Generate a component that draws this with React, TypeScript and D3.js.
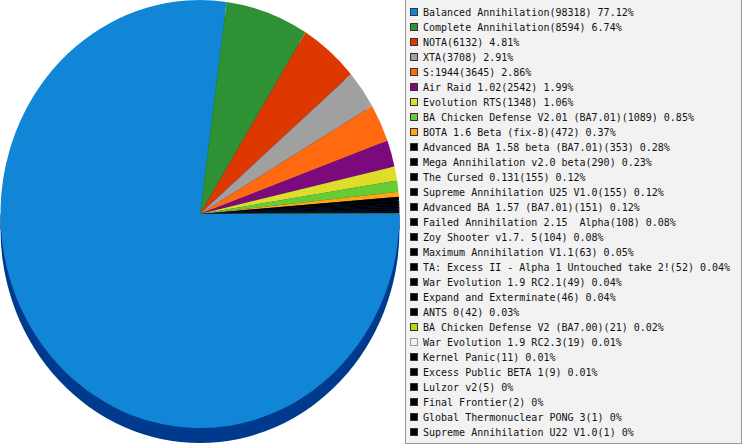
import { useEffect, useRef } from "react";
import * as d3 from "d3";

// ── Data ───────────────────────────────────────────────────────────────────────
const names = [
  "Balanced Annihilation",
  "Complete Annihilation",
  "NOTA",
  "XTA",
  "S:1944",
  "Air Raid 1.02",
  "Evolution RTS",
  "BA Chicken Defense V2.01 (BA7.01)",
  "BOTA 1.6 Beta (fix-8)",
  "Advanced BA 1.58 beta (BA7.01)",
  "Mega Annihilation v2.0 beta",
  "The Cursed 0.131",
  "Supreme Annihilation U25 V1.0",
  "Advanced BA 1.57 (BA7.01)",
  "Failed Annihilation 2.15  Alpha",
  "Zoy Shooter v1.7. 5",
  "Maximum Annihilation V1.1",
  "TA: Excess II - Alpha 1 Untouched take 2!",
  "War Evolution 1.9 RC2.1",
  "Expand and Exterminate",
  "ANTS 0",
  "BA Chicken Defense V2 (BA7.00)",
  "War Evolution 1.9 RC2.3",
  "Kernel Panic",
  "Excess Public BETA 1",
  "Lulzor v2",
  "Final Frontier",
  "Global Thermonuclear PONG 3",
  "Supreme Annihilation U22 V1.0",
];

const counts = [
  98318, 8594, 6132, 3708, 3645, 2542, 1348, 1089, 472, 353, 290, 155, 155, 151,
  108, 104, 63, 52, 49, 46, 42, 21, 19, 11, 9, 5, 2, 1, 1,
];

const percents = [
  "77.12%", "6.74%", "4.81%", "2.91%", "2.86%", "1.99%", "1.06%", "0.85%",
  "0.37%", "0.28%", "0.23%", "0.12%", "0.12%", "0.12%", "0.08%", "0.08%",
  "0.05%", "0.04%", "0.04%", "0.04%", "0.03%", "0.02%", "0.01%", "0.01%",
  "0.01%", "0%", "0%", "0%", "0%",
];

const colors = [
  "#1185d6", "#2e9134", "#dc3800", "#a0a0a0", "#ff6a10", "#7c0a7c",
  "#dede2a", "#66cc33", "#ffa50f", "#000000", "#000000", "#000000",
  "#000000", "#000000", "#000000", "#000000", "#000000", "#000000",
  "#000000", "#000000", "#000000", "#b0dc00", "#f2f2f2", "#000000",
  "#000000", "#000000", "#000000", "#000000", "#000000",
];

// ── Component ──────────────────────────────────────────────────────────────────
export default function App() {
  const svgRef = useRef<SVGSVGElement>(null);

  useEffect(() => {
    if (!svgRef.current) return;

    const width = 743;
    const height = 445;
    const cx = 200;
    const cy = 214;
    const rx = 199.5;
    const ry = 214;
    const depth = 15;

    const svg = d3.select(svgRef.current);
    svg.selectAll("*").remove();

    svg.append("rect").attr("width", width).attr("height", height).attr("fill", "#fff");

    // ── Extruded side ──────────────────────────────────────────────────────────
    const side = svg.append("g");
    side
      .append("ellipse")
      .attr("cx", cx)
      .attr("cy", cy + depth)
      .attr("rx", rx)
      .attr("ry", ry)
      .attr("fill", "#003a8c");
    side
      .append("rect")
      .attr("x", cx - rx)
      .attr("y", cy)
      .attr("width", rx * 2)
      .attr("height", depth)
      .attr("fill", "#003a8c");

    // ── Top face (slices clockwise from 3 o'clock) ─────────────────────────────
    const pie = d3
      .pie<number>()
      .sort(null)
      .value((d) => d)
      .startAngle(Math.PI / 2)
      .endAngle(Math.PI / 2 + Math.PI * 2);

    const arc = d3.arc<d3.PieArcDatum<number>>().innerRadius(0).outerRadius(1);

    svg
      .append("g")
      .attr("transform", `translate(${cx},${cy}) scale(${rx},${ry})`)
      .selectAll("path")
      .data(pie(counts))
      .enter()
      .append("path")
      .attr("d", (d) => arc(d) as string)
      .attr("fill", (_, i) => colors[i]);

    // ── Legend ─────────────────────────────────────────────────────────────────
    const legend = svg.append("g");
    legend
      .append("rect")
      .attr("x", 405.5)
      .attr("y", -1.5)
      .attr("width", 336)
      .attr("height", 445)
      .attr("fill", "#f2f2f2")
      .attr("stroke", "#999");

    const rowY = d3
      .scaleLinear()
      .domain([0, names.length - 1])
      .range([12, 12 + 15 * (names.length - 1)]);

    const rows = legend
      .selectAll("g.row")
      .data(names)
      .enter()
      .append("g")
      .attr("class", "row")
      .attr("transform", (_, i) => `translate(0,${rowY(i)})`);

    rows
      .append("rect")
      .attr("x", 410.5)
      .attr("y", -3.5)
      .attr("width", 7)
      .attr("height", 7)
      .attr("fill", (_, i) => colors[i])
      .attr("stroke", (_, i) => (colors[i] === "#f2f2f2" ? "#999" : "#333"));

    rows
      .append("text")
      .attr("x", 423)
      .attr("y", 4)
      .attr("fill", "#111")
      .attr("font-family", "'DejaVu Sans Mono', monospace")
      .attr("font-size", "10")
      .style("white-space", "pre")
      .text((d, i) => `${d}(${counts[i]}) ${percents[i]}`);
  }, []);

  return (
    <svg
      ref={svgRef}
      width="743"
      height="445"
      viewBox="0 0 743 445"
      style={{ position: "absolute", left: 0, top: 0 }}
    />
  );
}
